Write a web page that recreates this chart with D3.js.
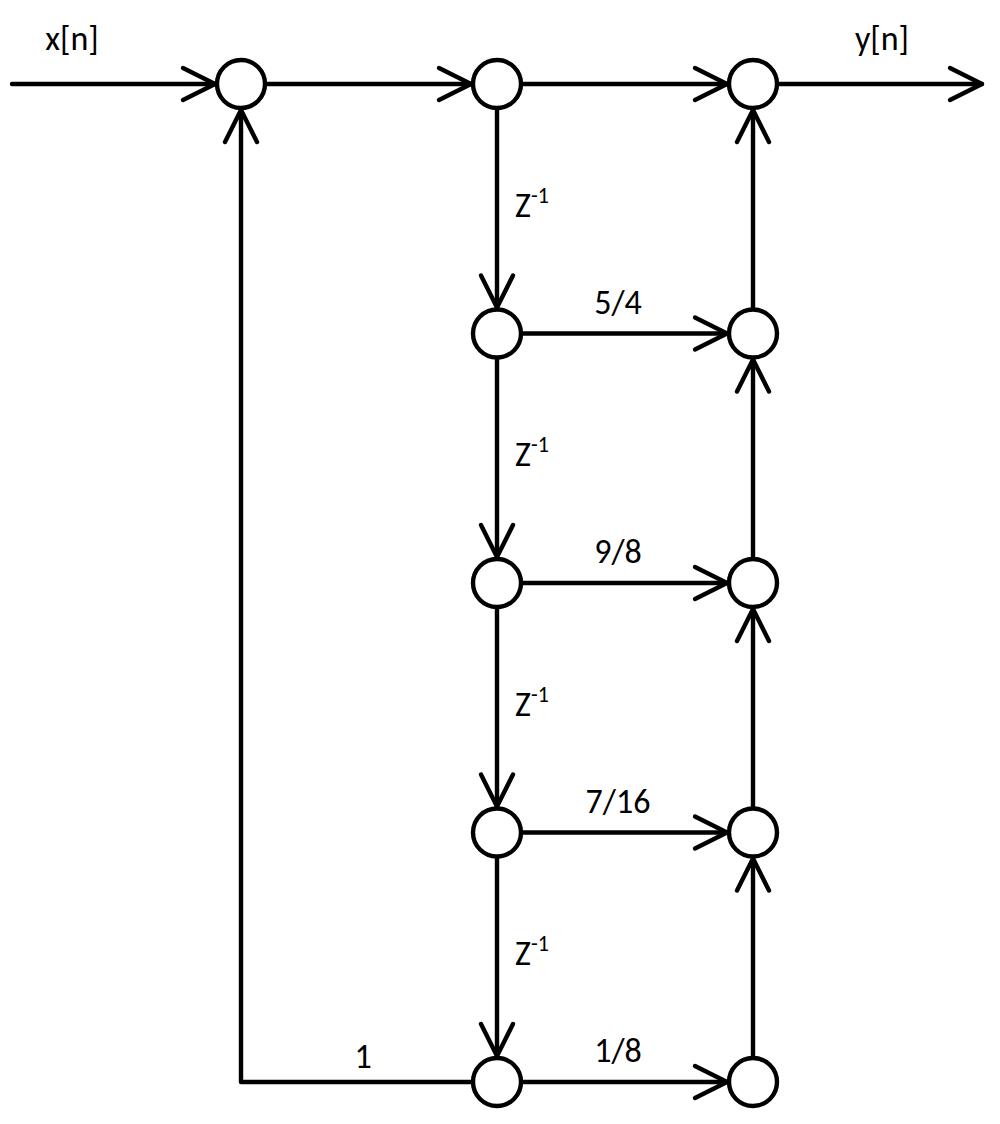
<!DOCTYPE html>
<html><head><meta charset="utf-8">
<script src="https://cdn.jsdelivr.net/npm/d3@7"></script>
<style>body{margin:0;background:#fff}</style></head>
<body><svg id="c" width="1000" height="1124"></svg>
<script>
const columns = ["sum", "tap", "out"];
const rows = [0, 1, 2, 3, 4];
const coefficients = ["", "5/4", "9/8", "7/16", "1/8"];
const delayLabel = "Z";
const feedbackGain = "1";

const x = d3.scalePoint().domain(columns).range([241, 753]);
const y = d3.scalePoint().domain(rows).range([84, 1082]);
const R = 24, SW = 4.4;
const svg = d3.select("#c");
const g = svg.append("g").attr("stroke", "#000").attr("stroke-width", SW).attr("fill", "none").attr("stroke-linecap", "round").attr("stroke-linejoin", "round");

function line(x1, y1, x2, y2) { g.append("line").attr("x1", x1).attr("y1", y1).attr("x2", x2).attr("y2", y2); }
function arrow(x2, y2, dx, dy) {
  const L = 32, W = 16;
  const px = -dy, py = dx;
  g.append("path").attr("d", `M${x2 - dx*L + px*W},${y2 - dy*L + py*W}L${x2},${y2}L${x2 - dx*L - px*W},${y2 - dy*L - py*W}`);
}
function hArrow(x1, x2, yy) { line(x1, yy, x2, yy); arrow(x2, yy, 1, 0); }

hArrow(12, x("sum") - R - 2, y(0));
hArrow(x("sum") + R, x("tap") - R - 2, y(0));
rows.forEach(r => hArrow(x("tap") + R, x("out") - R - 2, y(r)));
hArrow(x("out") + R, 982, y(0));
rows.slice(1).forEach(r => { line(x("tap"), y(r-1) + R, x("tap"), y(r) - R - 2); arrow(x("tap"), y(r) - R - 2, 0, 1); });
rows.slice(1).forEach(r => { line(x("out"), y(r) - R, x("out"), y(r-1) + R + 2); arrow(x("out"), y(r-1) + R + 2, 0, -1); });
g.append("path").attr("d", `M${x("tap") - R},${y(4)}H${x("sum")}V${y(0) + R + 2}`);
arrow(x("sum"), y(0) + R + 2, 0, -1);
rows.forEach(r => columns.forEach(c => {
  if (c === "sum" && r > 0) return;
  g.append("circle").attr("cx", x(c)).attr("cy", y(r)).attr("r", R).attr("fill", "#fff");
}));

const t = svg.append("g").attr("font-family", "Calibri, Carlito, 'Liberation Sans', sans-serif").attr("font-size", 34).attr("fill", "#000");
t.append("text").attr("x", 72).attr("y", 50).attr("text-anchor", "middle").text("x[n]");
t.append("text").attr("x", 882).attr("y", 50).attr("text-anchor", "middle").text("y[n]");
rows.forEach(r => { if (coefficients[r]) t.append("text").attr("x", 618).attr("y", y(r) - 20).attr("text-anchor", "middle").text(coefficients[r]); });
rows.slice(1).forEach(r => {
  const yy = (y(r-1) + y(r)) / 2 - 4;
  const tx = t.append("text").attr("x", 515).attr("y", yy + 12);
  tx.append("tspan").text(delayLabel);
  tx.append("tspan").attr("dy", -14).attr("font-size", 22).text("-1");
});
t.append("text").attr("x", 363).attr("y", y(4) - 14).attr("text-anchor", "middle").text(feedbackGain);
</script></body></html>
